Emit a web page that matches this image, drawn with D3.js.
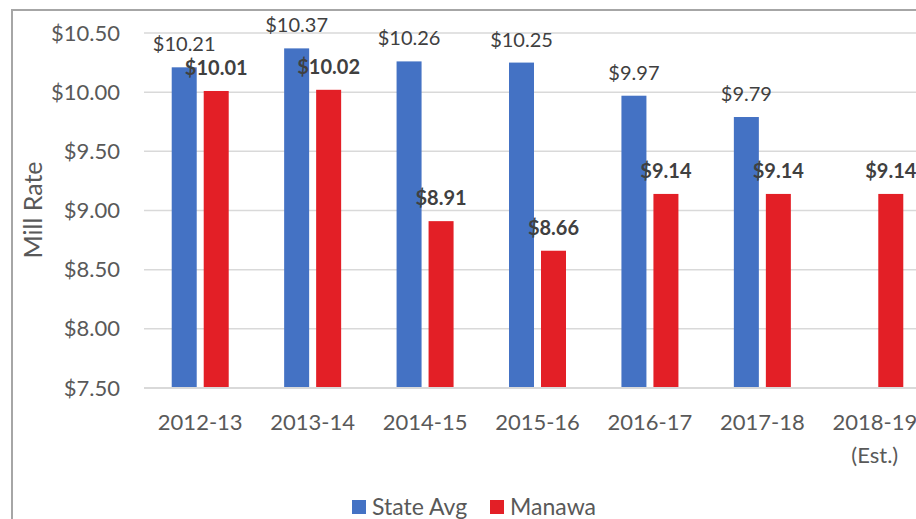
<!DOCTYPE html>
<html>
<head>
<meta charset="utf-8">
<script src="https://cdn.jsdelivr.net/npm/d3@7"></script>
<style>
  html, body { margin: 0; padding: 0; background: #fff; }
  svg { display: block; font-family: Lato, "Open Sans", sans-serif; }
</style>
</head>
<body>
<svg id="chart" width="916" height="519"></svg>
<script>
const categories = ["2012-13", "2013-14", "2014-15", "2015-16", "2016-17", "2017-18", "2018-19\n(Est.)"];
const stateAvg = [10.21, 10.37, 10.26, 10.25, 9.97, 9.79, null];
const manawa = [10.01, 10.02, 8.91, 8.66, 9.14, 9.14, 9.14];
const yTicks = [7.5, 8.0, 8.5, 9.0, 9.5, 10.0, 10.5];
const seriesNames = ["State Avg", "Manawa"];
const seriesColors = ["#4472C4", "#E31F26"];

const svg = d3.select("#chart");

// frame
svg.append("path")
  .attr("d", "M12,530 L12,10 L930,10")
  .attr("fill", "none").attr("stroke", "#a6a6a6").attr("stroke-width", 2);

const x = d3.scaleBand().domain(categories).range([144, 931]).padding(0);
const y = d3.scaleLinear().domain([7.5, 10.5]).range([388, 33]);

// gridlines
svg.append("g").selectAll("line").data(yTicks.filter(t => t > 7.5)).join("line")
  .attr("x1", 144).attr("x2", 931)
  .attr("y1", d => y(d)).attr("y2", d => y(d))
  .attr("stroke", "#d9d9d9").attr("stroke-width", 1.5);

// y axis labels
const yAxis = d3.axisLeft(y).tickValues(yTicks).tickSize(0).tickPadding(0)
  .tickFormat(d => "$" + d3.format(".2f")(d));
const ya = svg.append("g").attr("transform", "translate(120,0)").call(yAxis);
ya.select(".domain").remove();
ya.selectAll("text").attr("font-family", "Lato, sans-serif").attr("font-size", 22)
  .attr("fill", "#595959");

// bars
const barW = 25, gap = 7;
const groups = [stateAvg, manawa];
groups.forEach((vals, si) => {
  const off = si === 0 ? -(gap / 2 + barW) : gap / 2;
  const data = categories.map((c, i) => ({ c, v: vals[i] })).filter(d => d.v != null);
  svg.append("g").selectAll("rect").data(data).join("rect")
    .attr("x", d => x(d.c) + x.bandwidth() / 2 + off)
    .attr("width", barW)
    .attr("y", d => y(d.v))
    .attr("height", d => y(7.5) - y(d.v))
    .attr("fill", seriesColors[si]);
  svg.append("g").selectAll("text").data(data).join("text")
    .attr("x", d => x(d.c) + x.bandwidth() / 2 + off + barW / 2)
    .attr("y", d => y(d.v) - 16)
    .attr("text-anchor", "middle")
    .attr("font-size", 20)
    .attr("font-weight", si === 0 ? 400 : 700)
    .attr("fill", "#404040")
    .text(d => "$" + d3.format(".2f")(d.v));
});

// baseline
svg.append("line").attr("x1", 144).attr("x2", 931)
  .attr("y1", y(7.5)).attr("y2", y(7.5))
  .attr("stroke", "#d9d9d9").attr("stroke-width", 2);

// x axis labels
const xa = svg.append("g").attr("transform", "translate(0,388)")
  .call(d3.axisBottom(x).tickSize(0).tickFormat(() => ""));
xa.select(".domain").remove();
xa.selectAll(".tick").each(function(d) {
  const t = d3.select(this).append("text")
    .attr("text-anchor", "middle").attr("font-size", 22)
    .attr("font-family", "Lato, sans-serif").attr("fill", "#595959");
  d.split("\n").forEach((line, i) => {
    t.append("tspan").attr("x", 0).attr("y", 42 + i * 33).text(line);
  });
});

// axis title
svg.append("text")
  .attr("transform", "translate(42,210) rotate(-90)")
  .attr("text-anchor", "middle").attr("font-size", 25)
  .attr("fill", "#595959").text("Mill Rate");

// legend
const legX = [352, 490];
seriesNames.forEach((n, i) => {
  svg.append("rect").attr("x", legX[i]).attr("y", 500).attr("width", 14).attr("height", 14)
    .attr("fill", seriesColors[i]);
  svg.append("text").attr("x", legX[i] + 20).attr("y", 515)
    .attr("font-size", 23).attr("fill", "#595959").text(n);
});
</script>
</body>
</html>
